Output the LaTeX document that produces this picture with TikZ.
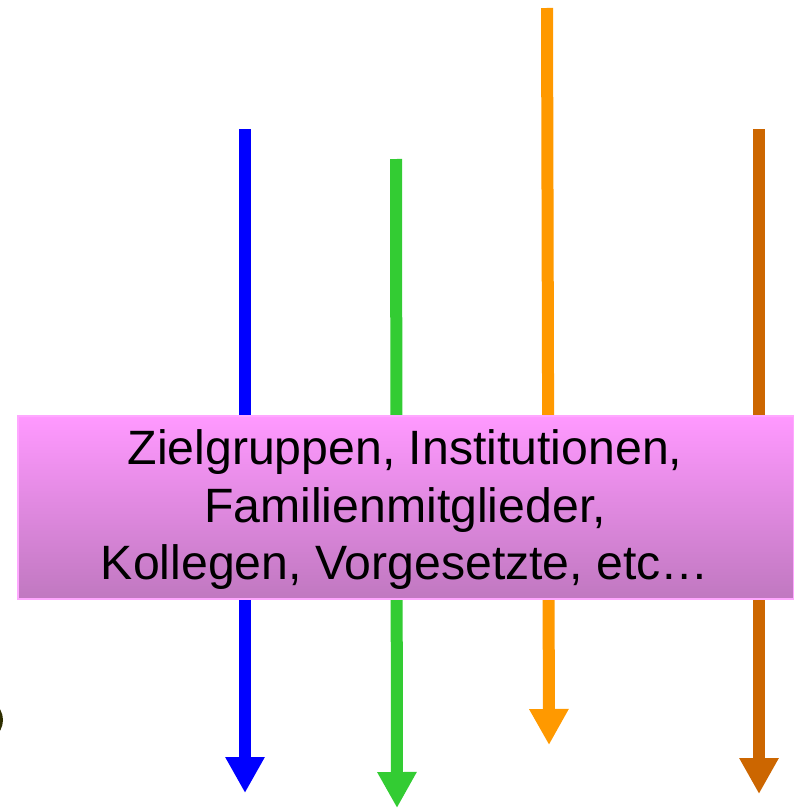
\documentclass[tikz,border=0pt]{standalone}
\usepackage{fontspec}
\setmainfont{Liberation Sans}
\usetikzlibrary{arrows.meta}
\definecolor{flowblue}{HTML}{0000FF}
\definecolor{flowgreen}{HTML}{33CC33}
\definecolor{floworange}{HTML}{FF9900}
\definecolor{flowrust}{HTML}{CC6600}
\definecolor{boxtop}{HTML}{FF99FF}
\definecolor{boxbottom}{HTML}{C078C0}
\definecolor{boxedge}{HTML}{FFA8FF}
\definecolor{olive}{HTML}{2E2E00}
\tikzset{
  flow/.style={line width=12pt, -{Triangle[length=36pt, width=37pt]}},
  banner/.style={draw=boxedge, line width=2pt, top color=boxtop, bottom color=boxbottom,
    minimum width=776pt, minimum height=183pt, inner sep=0pt, anchor=north west},
  bannertext/.style={align=center, font=\fontsize{48.2}{57.5}\selectfont, text=black}
}
\begin{document}
\begin{tikzpicture}[x=1pt, y=-1pt]
  \useasboundingbox (0,0) rectangle (794,808);
  \begin{scope}
    \clip (0,0) rectangle (794,808);
    % partly hidden disc at the left margin
    \fill[olive] (-30,720) ellipse [x radius=33, y radius=26];

    % flow end points
    \coordinate (b0) at (245,129);  \coordinate (b1) at (245,793);
    \coordinate (g0) at (396,159);  \coordinate (g1) at (397,808);
    \coordinate (o0) at (547,8);    \coordinate (o1) at (549,745);
    \coordinate (r0) at (759,129);  \coordinate (r1) at (759,794);

    \draw[flow, flowblue]   (b0) -- (b1);
    \draw[flow, flowgreen]  (g0) -- (g1);
    \draw[flow, floworange] (o0) -- (o1);
    \draw[flow, flowrust]   (r0) -- (r1);

    % banner across the flows
    \node[banner] (box) at (17,415) {};
    \node[bannertext] (label) at (405,510)
      {Zielgruppen, Institutionen,\\Familienmitglieder,\\Kollegen, Vorgesetzte, etc…};
  \end{scope}
\end{tikzpicture}
\end{document}
